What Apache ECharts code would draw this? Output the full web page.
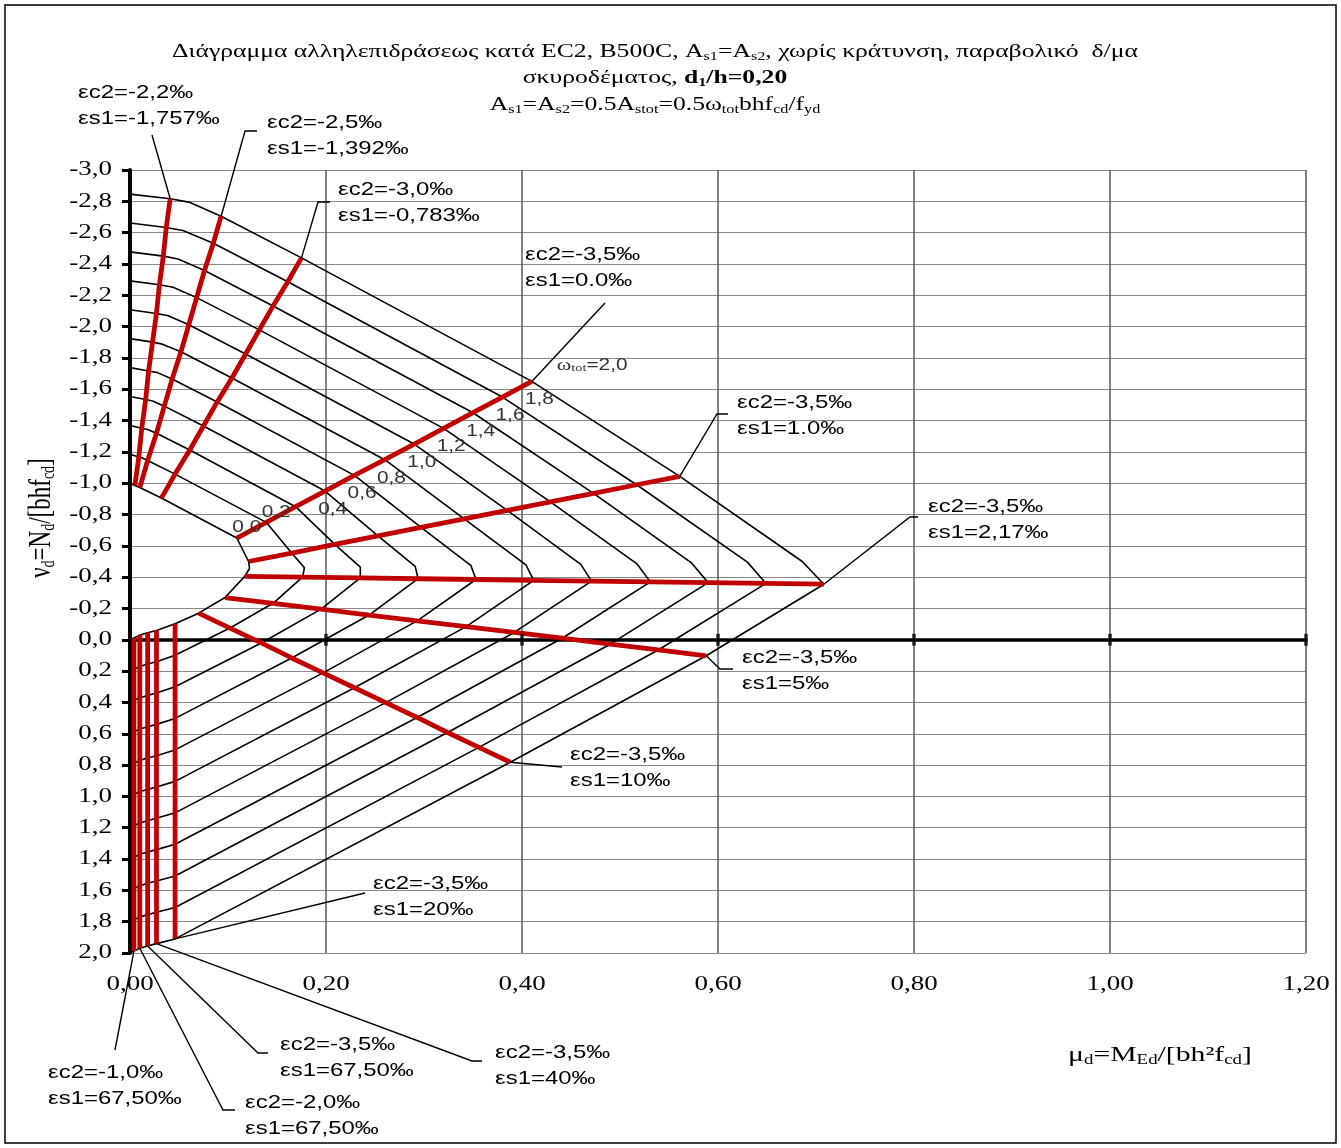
<!DOCTYPE html>
<html>
<head>
<meta charset="utf-8">
<title>Διάγραμμα αλληλεπιδράσεως EC2</title>
<script src="https://cdn.jsdelivr.net/npm/echarts@6/dist/echarts.min.js"></script>
<style>
html, body { margin: 0; padding: 0; background: #fff; }
#chart { width: 1341px; height: 1148px; }
</style>
</head>
<body>
<div id="chart"></div>
<script>
// omega_tot of each curve
var omega = [0.0, 0.2, 0.4, 0.6, 0.8, 1.0, 1.2, 1.4, 1.6, 1.8, 2.0];
var omegaText = ['0,0', '0,2', '0,4', '0,6', '0,8', '1,0', '1,2', '1,4', '1,6', '1,8', '2,0'];

// points of every curve for one strain state (index = omega)
var topMu   = [0, 0, 0, 0, 0, 0, 0, 0, 0, 0, 0];
var topNu   = [-1.000, -1.185, -1.369, -1.554, -1.738, -1.923, -2.108, -2.292, -2.477, -2.662, -2.846];
var ec22Mu  = [0.005, 0.009, 0.012, 0.016, 0.019, 0.023, 0.027, 0.030, 0.034, 0.037, 0.041];
var ec22Nu  = [-0.985, -1.168, -1.351, -1.534, -1.717, -1.901, -2.084, -2.267, -2.450, -2.633, -2.816];
var knee1Mu = [0.007, 0.012, 0.018, 0.023, 0.028, 0.033, 0.039, 0.044, 0.049, 0.054, 0.060];
var knee1Nu = [-0.980, -1.162, -1.343, -1.525, -1.706, -1.888, -2.069, -2.251, -2.432, -2.614, -2.795];
var ec25Mu  = [0.010, 0.018, 0.027, 0.035, 0.043, 0.052, 0.060, 0.068, 0.076, 0.085, 0.093];
var ec25Nu  = [-0.972, -1.145, -1.319, -1.492, -1.665, -1.839, -2.012, -2.185, -2.358, -2.532, -2.705];
var ec30Mu  = [0.032, 0.046, 0.061, 0.075, 0.089, 0.104, 0.118, 0.132, 0.146, 0.161, 0.175];
var ec30Nu  = [-0.905, -1.058, -1.212, -1.365, -1.519, -1.672, -1.825, -1.979, -2.132, -2.286, -2.439];
var es00Mu  = [0.109, 0.139, 0.169, 0.199, 0.229, 0.260, 0.290, 0.320, 0.350, 0.380, 0.410];
var es00Nu  = [-0.650, -0.750, -0.850, -0.950, -1.050, -1.150, -1.250, -1.350, -1.450, -1.550, -1.650];
var es10Mu  = [0.121, 0.165, 0.209, 0.253, 0.297, 0.341, 0.385, 0.429, 0.473, 0.517, 0.561];
var es10Nu  = [-0.500, -0.554, -0.609, -0.663, -0.718, -0.772, -0.826, -0.881, -0.935, -0.990, -1.044];
var knee2Mu = [0.122, 0.178, 0.235, 0.291, 0.348, 0.404, 0.460, 0.517, 0.573, 0.630, 0.686];
var knee2Nu = [-0.455, -0.460, -0.464, -0.469, -0.473, -0.478, -0.482, -0.487, -0.491, -0.496, -0.500];
var es217Mu = [0.117, 0.176, 0.235, 0.294, 0.353, 0.412, 0.471, 0.531, 0.590, 0.649, 0.708];
var es217Nu = [-0.405, -0.400, -0.395, -0.390, -0.385, -0.380, -0.375, -0.370, -0.365, -0.360, -0.355];
var es5Mu   = [0.097, 0.146, 0.195, 0.244, 0.293, 0.343, 0.392, 0.441, 0.490, 0.539, 0.588];
var es5Nu   = [-0.270, -0.233, -0.196, -0.158, -0.121, -0.084, -0.047, -0.010, 0.028, 0.065, 0.102];
var es100Mu = [0.070, 0.102, 0.134, 0.165, 0.197, 0.229, 0.261, 0.293, 0.324, 0.356, 0.388];
var es100Nu = [-0.170, -0.075, 0.020, 0.116, 0.211, 0.306, 0.401, 0.496, 0.592, 0.687, 0.782];
var es200Mu = [0.046, 0.046, 0.046, 0.046, 0.046, 0.046, 0.046, 0.046, 0.046, 0.046, 0.046];
var es200Nu = [-0.102, 0.099, 0.300, 0.502, 0.703, 0.904, 1.105, 1.306, 1.508, 1.709, 1.910];
var es400Mu = [0.027, 0.027, 0.027, 0.027, 0.027, 0.027, 0.027, 0.027, 0.027, 0.027, 0.027];
var es400Nu = [-0.060, 0.140, 0.340, 0.540, 0.740, 0.940, 1.140, 1.340, 1.540, 1.740, 1.940];
var e675aMu = [0.018, 0.018, 0.018, 0.018, 0.018, 0.018, 0.018, 0.018, 0.018, 0.018, 0.018];
var e675aNu = [-0.045, 0.155, 0.355, 0.555, 0.755, 0.955, 1.155, 1.355, 1.555, 1.755, 1.955];
var e675bMu = [0.010, 0.010, 0.010, 0.010, 0.010, 0.010, 0.010, 0.010, 0.010, 0.010, 0.010];
var e675bNu = [-0.030, 0.170, 0.370, 0.570, 0.770, 0.970, 1.170, 1.370, 1.570, 1.770, 1.970];
var e675cMu = [0.004, 0.004, 0.004, 0.004, 0.004, 0.004, 0.004, 0.004, 0.004, 0.004, 0.004];
var e675cNu = [-0.012, 0.188, 0.388, 0.588, 0.788, 0.988, 1.188, 1.388, 1.588, 1.788, 1.988];
var tensMu  = [0, 0, 0, 0, 0, 0, 0, 0, 0, 0, 0];
var tensNu  = [0.0, 0.2, 0.4, 0.6, 0.8, 1.0, 1.2, 1.4, 1.6, 1.8, 2.0];

// axis ticks
var xTicks = [0.0, 0.2, 0.4, 0.6, 0.8, 1.0, 1.2];
var xTickText = ['0,00', '0,20', '0,40', '0,60', '0,80', '1,00', '1,20'];
var yTicks = [-3.0, -2.8, -2.6, -2.4, -2.2, -2.0, -1.8, -1.6, -1.4, -1.2, -1.0, -0.8, -0.6, -0.4, -0.2,
    0.0, 0.2, 0.4, 0.6, 0.8, 1.0, 1.2, 1.4, 1.6, 1.8, 2.0];

// order of the strain states along each curve
var states = [
    [topMu, topNu], [ec22Mu, ec22Nu], [knee1Mu, knee1Nu], [ec25Mu, ec25Nu], [ec30Mu, ec30Nu],
    [es00Mu, es00Nu], [es10Mu, es10Nu], [knee2Mu, knee2Nu], [es217Mu, es217Nu], [es5Mu, es5Nu],
    [es100Mu, es100Nu], [es200Mu, es200Nu], [es400Mu, es400Nu], [e675aMu, e675aNu],
    [e675bMu, e675bNu], [e675cMu, e675cNu], [tensMu, tensNu]
];
// red lines (constant strain)
var redStates = [
    [ec22Mu, ec22Nu], [ec25Mu, ec25Nu], [ec30Mu, ec30Nu], [es00Mu, es00Nu], [es10Mu, es10Nu],
    [es217Mu, es217Nu], [es5Mu, es5Nu], [es100Mu, es100Nu], [es200Mu, es200Nu],
    [es400Mu, es400Nu], [e675aMu, e675aNu], [e675bMu, e675bNu], [e675cMu, e675cNu]
];

var chart = echarts.init(document.getElementById('chart'));

var SERIF = '"Liberation Serif", "Times New Roman", serif';
var SANS = '"Liberation Sans", Arial, sans-serif';
var STRETCH = 1.35;   // the original picture is wide-stretched

var series = [];
omega.forEach(function (w, k) {
    series.push({
        type: 'line',
        name: 'w' + w,
        data: states.map(function (s) { return [s[0][k], s[1][k]]; }),
        symbol: 'none',
        lineStyle: { color: '#000', width: 1.6 },
        z: 2
    });
});
redStates.forEach(function (s, i) {
    series.push({
        type: 'line',
        name: 'red' + i,
        data: omega.map(function (w, k) { return [s[0][k], s[1][k]]; }),
        symbol: 'none',
        lineStyle: { color: '#c00000', width: 4.8, cap: 'butt' },
        z: 3
    });
});
// cross ticks on the zero axis
series.push({
    type: 'scatter',
    data: xTicks.slice(1).map(function (v) { return [v, 0]; }),
    symbol: 'rect',
    symbolSize: [3.5, 12],
    itemStyle: { color: '#000' },
    z: 5
});

var option = {
    animation: false,
    backgroundColor: '#fff',
    grid: { left: 130, right: 35, top: 170, bottom: 195 },
    xAxis: [{
        type: 'value', min: 0, max: 1.2, interval: 0.2, position: 'bottom',
        axisLine: { show: false, onZero: false },
        axisTick: { show: false },
        axisLabel: { show: false },
        splitLine: { lineStyle: { color: '#5a5a5a', width: 1.5 } }
    }, {
        type: 'value', min: 0, max: 1.2, interval: 0.2, position: 'top',
        axisLine: { show: true, onZero: true, lineStyle: { color: '#000', width: 3.5 } },
        axisTick: { show: false },
        axisLabel: { show: false },
        splitLine: { show: false }
    }],
    yAxis: {
        type: 'value', min: -3, max: 2, interval: 0.2, inverse: true,
        axisLine: { show: true, onZero: false, lineStyle: { color: '#000', width: 4 } },
        axisTick: { show: true, length: 8, lineStyle: { color: '#000', width: 3 } },
        axisLabel: { show: false },
        splitLine: { lineStyle: { color: '#8a8a8a', width: 1.2 } }
    },
    series: series
};
chart.setOption(option);

var toPx = function (mu, nu) { return chart.convertToPixel({ seriesIndex: 0 }, [mu, nu]); };

// annotations: text position (left, centre of first line), elbow points of the leader, state anchored at omega=2
var notes = [
    { t: ['εc2=-2,2‰', 'εs1=-1,757‰'], x: 78, y: 93, lead: [[152, 135]], at: [ec22Mu, ec22Nu] },
    { t: ['εc2=-2,5‰', 'εs1=-1,392‰'], x: 267, y: 123, lead: [[257, 131], [245, 131]], at: [ec25Mu, ec25Nu] },
    { t: ['εc2=-3,0‰', 'εs1=-0,783‰'], x: 338, y: 190, lead: [[330, 202], [318, 202]], at: [ec30Mu, ec30Nu] },
    { t: ['εc2=-3,5‰', 'εs1=0.0‰'], x: 525, y: 255, lead: [[605, 303]], at: [es00Mu, es00Nu] },
    { t: ['εc2=-3,5‰', 'εs1=1.0‰'], x: 737, y: 403, lead: [[728, 414], [717, 414]], at: [es10Mu, es10Nu] },
    { t: ['εc2=-3,5‰', 'εs1=2,17‰'], x: 928, y: 507, lead: [[918, 517], [910, 517]], at: [es217Mu, es217Nu] },
    { t: ['εc2=-3,5‰', 'εs1=5‰'], x: 742, y: 658, lead: [[733, 669], [720, 669]], at: [es5Mu, es5Nu] },
    { t: ['εc2=-3,5‰', 'εs1=10‰'], x: 570, y: 755, lead: [[562, 767]], at: [es100Mu, es100Nu] },
    { t: ['εc2=-3,5‰', 'εs1=20‰'], x: 373, y: 884, lead: [[365, 893]], at: [es200Mu, es200Nu] },
    { t: ['εc2=-1,0‰', 'εs1=67,50‰'], x: 48, y: 1073, lead: [[115, 1050]], at: [e675cMu, e675cNu] },
    { t: ['εc2=-2,0‰', 'εs1=67,50‰'], x: 245, y: 1103, lead: [[235, 1110], [223, 1110]], at: [e675bMu, e675bNu] },
    { t: ['εc2=-3,5‰', 'εs1=67,50‰'], x: 280, y: 1045, lead: [[268, 1053], [258, 1053]], at: [e675aMu, e675aNu] },
    { t: ['εc2=-3,5‰', 'εs1=40‰'], x: 495, y: 1053, lead: [[482, 1061], [472, 1061]], at: [es400Mu, es400Nu] }
];

var graphics = [];
graphics.push({
    type: 'rect', silent: true,
    shape: { x: 5, y: 5, width: 1331, height: 1138 },
    style: { fill: null, stroke: '#000', lineWidth: 1.5 }
});

function plainText(x, y, text, font, align, sx, color) {
    return {
        type: 'text', silent: true, z: 10, x: x, y: y, scaleX: sx,
        style: { text: text, x: 0, y: 0, font: font, fill: color || '#000', align: align, verticalAlign: 'middle' }
    };
}

// tick labels
xTicks.forEach(function (v, i) {
    var p = toPx(v, 2);
    graphics.push(plainText(p[0], 985, xTickText[i], '20px ' + SERIF, 'center', STRETCH));
});
yTicks.forEach(function (v) {
    var p = toPx(0, v);
    graphics.push(plainText(112, p[1], v.toFixed(1).replace('.', ','), '20px ' + SERIF, 'right', STRETCH));
});

// omega labels next to the es1=0 line
var labOffsets = [[10, -10], [10, -10], [37, 3], [37, 3], [37, 3], [37, 3], [37, 3], [37, 3], [37, 3], [37, 3], [25, -16]];
omega.forEach(function (w, k) {
    var p = toPx(es00Mu[k], es00Nu[k]);
    if (k < 10) {
        graphics.push(plainText(p[0] + labOffsets[k][0], p[1] + labOffsets[k][1], omegaText[k], '16px ' + SANS, 'center', 1.3, '#333'));
    } else {
        graphics.push({
            type: 'text', silent: true, z: 10, x: p[0] + labOffsets[k][0], y: p[1] + labOffsets[k][1], scaleX: 1.3,
            style: {
                text: '{w|ω}{s|tot}{n|=' + omegaText[k] + '}', x: 0, y: 0, verticalAlign: 'middle',
                rich: {
                    w: { fontFamily: SERIF, fontSize: 17, lineHeight: 17, fill: '#333' },
                    s: { fontFamily: SERIF, fontSize: 11, lineHeight: 9, verticalAlign: 'bottom', fill: '#333' },
                    n: { fontFamily: SANS, fontSize: 16, lineHeight: 17, fill: '#333' }
                }
            }
        });
    }
});

notes.forEach(function (n) {
    var p = toPx(n.at[0][10], n.at[1][10]);
    graphics.push({
        type: 'polyline', silent: true, z: 10,
        shape: { points: n.lead.concat([p]) },
        style: { stroke: '#000', lineWidth: 1.4, fill: null }
    });
    n.t.forEach(function (line, i) {
        graphics.push(plainText(n.x, n.y + i * 26, line, '19px ' + SANS, 'left', 1.26));
    });
});

function richText(cx, cy, text, size, rot, sx, sy) {
    return {
        type: 'text', silent: true, z: 10, x: cx, y: cy, rotation: rot || 0, scaleX: sx || 1, scaleY: sy || 1,
        style: {
            text: text, x: 0, y: 0, align: 'center', verticalAlign: 'middle',
            font: size + 'px ' + SERIF, fill: '#000',
            rich: {
                t: { fontSize: size, lineHeight: size + 2, fontFamily: SERIF, fill: '#000' },
                b: { fontSize: size, lineHeight: size + 2, fontFamily: SERIF, fontWeight: 'bold', fill: '#000' },
                s: { fontSize: Math.round(size * 0.62), lineHeight: 10, verticalAlign: 'bottom', fontFamily: SERIF, fill: '#000' },
                bs: { fontSize: Math.round(size * 0.62), lineHeight: 10, verticalAlign: 'bottom', fontFamily: SERIF, fontWeight: 'bold', fill: '#000' }
            }
        }
    };
}
graphics.push(richText(655, 52, '{t|Διάγραμμα αλληλεπιδράσεως κατά EC2, B500C, A}{s|s1}{t|=A}{s|s2}{t|, χωρίς κράτυνση, παραβολικό  δ/μα}', 19, 0, STRETCH));
graphics.push(richText(655, 78, '{t|σκυροδέματος, }{b|d}{bs|1}{b|/h=0,20}', 19, 0, STRETCH));
graphics.push(richText(655, 105, '{t|A}{s|s1}{t|=A}{s|s2}{t|=0.5A}{s|stot}{t|=0.5ω}{s|tot}{t|bhf}{s|cd}{t|/f}{s|yd}', 19, 0, STRETCH));
graphics.push(richText(42, 518, '{t|ν}{s|d}{t|=N}{s|d}{t|/[bhf}{s|cd}{t|]}', 23, Math.PI / 2, 1, STRETCH));
graphics.push(richText(1160, 1055, '{t|μ}{s|d}{t|=M}{s|Ed}{t|/[bh²f}{s|cd}{t|]}', 22, 0, STRETCH));

chart.setOption({ graphic: { elements: graphics } });
</script>
</body>
</html>
